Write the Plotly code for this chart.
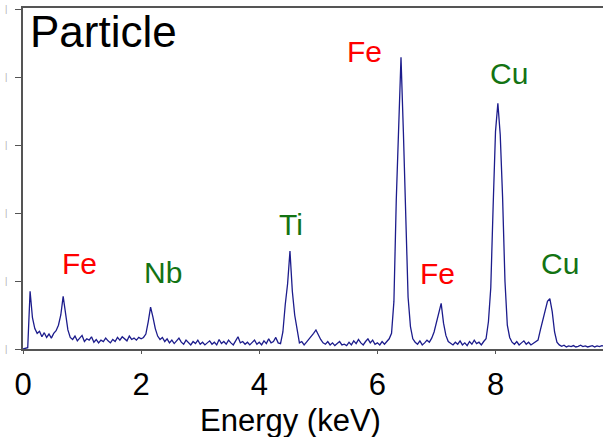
import numpy as np
import plotly.graph_objects as go

# Channel energies (keV), 0.04 keV per channel
energy_step = 0.04
# Counts (one row = 0.4 keV)
counts = [
    0, 5, 20, 850, 460, 300, 230, 260, 180, 240,            # 0.00-0.36
    170, 220, 160, 230, 270, 350, 500, 775, 560, 280,       # 0.40-0.76
    170, 140, 190, 120, 160, 200, 110, 150, 130, 180,       # 0.80-1.16
    100, 140, 90, 130, 110, 160, 120, 90, 140, 110,         # 1.20-1.56
    170, 130, 180, 150, 120, 190, 140, 160, 130, 170,       # 1.60-1.96
    150, 170, 220, 400, 615, 470, 300, 190, 140, 170,       # 2.00-2.36
    110, 150, 90, 130, 80, 120, 160, 100, 70, 130,          # 2.40-2.76
    90, 60, 110, 80, 130, 70, 100, 60, 90, 120,             # 2.80-3.16
    70, 100, 60, 140, 80, 110, 70, 130, 90, 60,             # 3.20-3.56
    120, 180, 90, 110, 70, 100, 60, 90, 130, 70,            # 3.60-3.96
    100, 60, 120, 80, 150, 90, 110, 170, 90, 80,            # 4.00-4.36
    250, 650, 960, 1440, 850, 500, 260, 90, 110, 60,        # 4.40-4.76
    100, 140, 180, 230, 280, 200, 140, 90, 70, 110,         # 4.80-5.16
    60, 90, 50, 80, 110, 60, 70, 50, 100, 60,               # 5.20-5.56
    120, 80, 140, 90, 60, 110, 150, 90, 130, 70,            # 5.60-5.96
    90, 60, 110, 70, 110, 150, 230, 700, 2200, 3150,        # 6.00-6.36
    4290, 3200, 2050, 760, 330, 150, 100, 70, 120, 60,      # 6.40-6.76
    90, 130, 100, 160, 250, 400, 560, 670, 380, 200,        # 6.80-7.16
    110, 80, 60, 100, 70, 120, 60, 90, 50, 110,             # 7.20-7.56
    70, 130, 80, 100, 60, 110, 150, 400, 900, 2100,         # 7.60-7.96
    3200, 3615, 3150, 2230, 1000, 350, 170, 100, 70, 110,   # 8.00-8.36
    60, 90, 120, 70, 100, 60, 80, 110, 130, 280,            # 8.40-8.76
    420, 570, 700, 740, 550, 250, 100, 60, 40, 55,          # 8.80-9.16
    30, 45, 35, 50, 30, 40, 55, 35, 45, 30,                 # 9.20-9.56
    40, 50, 30, 45, 35, 50, 40,                             # 9.60-9.84
]
energy = [round(i * energy_step, 2) for i in range(len(counts))]

# Peak labels
peak_labels = ["Fe", "Nb", "Ti", "Fe", "Fe", "Cu", "Cu"]
peak_label_x = [0.95, 2.37, 4.54, 5.79, 7.02, 8.23, 9.10]
peak_label_y = [1257, 1125, 1830, 4382, 1106, 4047, 1257]
peak_label_colors = ["#ff0000", "#137313", "#137313", "#ff0000", "#ff0000", "#137313", "#137313"]

x_tickvals = [0, 2, 4, 6, 8]
x_ticktext = ["0", "2", "4", "6", "8"]
y_tickvals = [0, 1000, 2000, 3000, 4000, 5000]

fig = go.Figure()
fig.add_trace(go.Scatter(x=energy, y=counts, mode="lines",
                         line=dict(color="#1c1c8c", width=1.3), hoverinfo="skip"))

for t, x, y, c in zip(peak_labels, peak_label_x, peak_label_y, peak_label_colors):
    fig.add_annotation(x=x, y=y, xref="x", yref="y", text=t, showarrow=False,
                       font=dict(family="Liberation Sans, Arial", size=30, color=c),
                       xanchor="center", yanchor="middle")

fig.add_annotation(x=0.009, y=0.93, xref="paper", yref="paper", text="Particle",
                   showarrow=False, xanchor="left", yanchor="middle",
                   font=dict(family="Liberation Sans, Arial", size=44, color="black"))

fig.add_annotation(x=0.462, y=-0.21, xref="paper", yref="paper", text="Energy (keV)",
                   showarrow=False, xanchor="center", yanchor="middle",
                   font=dict(family="Liberation Sans, Arial", size=31, color="black"))

fig.update_layout(
    width=603, height=437,
    margin=dict(l=23, r=0, t=8, b=88),
    paper_bgcolor="white", plot_bgcolor="white",
    showlegend=False,
    font=dict(family="Liberation Sans, Arial"),
)
fig.update_xaxes(range=[0, 9.82], tickvals=x_tickvals, ticktext=x_ticktext,
                 ticks="outside", ticklen=3, tickwidth=1.2, tickcolor="#555",
                 showline=True, linecolor="#555", linewidth=1.5, mirror=True,
                 showgrid=False, zeroline=False, automargin=False,
                 tickfont=dict(size=31, color="black"), ticklabelstandoff=4)
fig.update_yaxes(range=[0, 5015], tickvals=y_tickvals, ticktext=["|"] * len(y_tickvals),
                 ticks="outside", ticklen=6, tickwidth=1.2, tickcolor="#555",
                 showline=True, linecolor="#555", linewidth=1.5,
                 showgrid=False, zeroline=False, automargin=False,
                 tickfont=dict(size=9, color="#b0b0b0"), ticklabelstandoff=6)

fig.write_html("out.html", config={"displayModeBar": False},
               post_script="document.body.style.margin='0px';document.body.style.overflow='hidden';")
